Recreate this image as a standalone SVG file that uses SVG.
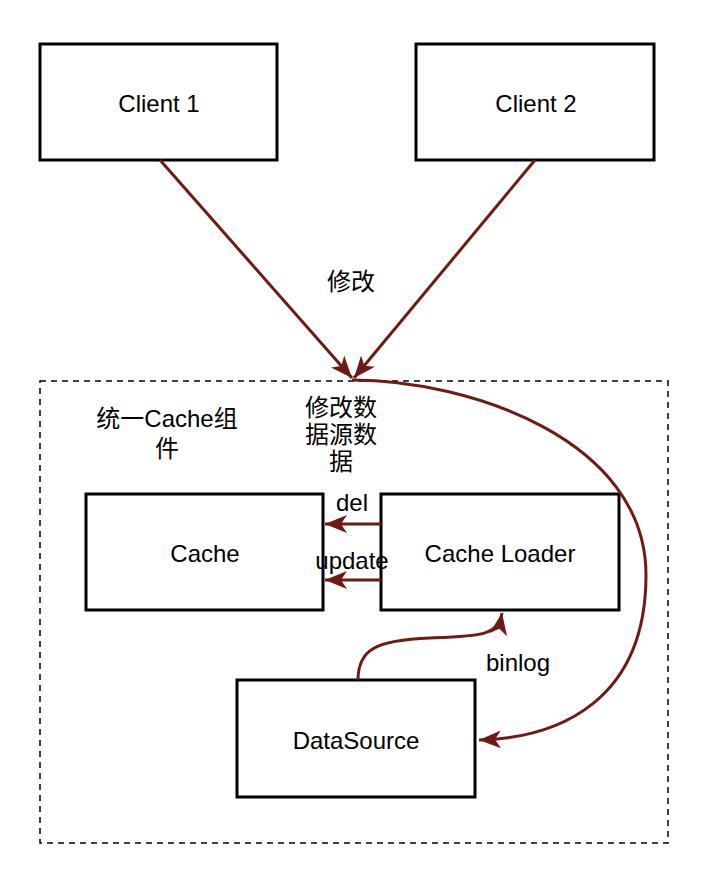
<svg xmlns="http://www.w3.org/2000/svg" width="710" height="874" viewBox="0 0 710 874">
<style>
.box{fill:#fff;stroke:#000;stroke-width:3}
.t{font-family:"Liberation Sans","Noto Sans CJK SC",Arial,sans-serif;font-size:24px;fill:#000;text-anchor:middle}
.c{fill:none;stroke:#6f1a12;stroke-width:3}
</style>
<defs>
<marker id="ah" markerUnits="userSpaceOnUse" markerWidth="24" markerHeight="18" viewBox="0 0 24 18" refX="22" refY="9" orient="auto">
<path d="M0,0 L22,9 L0,18 L6,9 z" fill="#6f1a12"/>
</marker>
</defs>
<rect x="40" y="381" width="628" height="462" fill="none" stroke="#000" stroke-width="1.5" stroke-dasharray="6 5"/>
<g id="client1"><rect class="box" x="40" y="44" width="237" height="116"/><text class="t" x="159" y="112">Client 1</text></g>
<g id="client2"><rect class="box" x="416" y="44" width="238" height="116"/><text class="t" x="536" y="112">Client 2</text></g>
<g id="cache"><rect class="box" x="86" y="494" width="237" height="116"/><text class="t" x="205" y="562">Cache</text></g>
<g id="loader"><rect class="box" x="381" y="494" width="238" height="116"/><text class="t" x="500" y="562">Cache Loader</text></g>
<g id="datasource"><rect class="box" x="237" y="680" width="238" height="117"/><text class="t" x="356" y="749">DataSource</text></g>
<g id="group-label"><text class="t" x="167" y="427">统一Cache组</text><text class="t" x="167" y="457">件</text></g>
<g id="connectors">
<line class="c" x1="160" y1="160" x2="352" y2="378" marker-end="url(#ah)"/>
<line class="c" x1="535" y1="160" x2="354" y2="378" marker-end="url(#ah)"/>
<path class="c" d="M352,380 C470,380 646,440 646,575 C646,700 560,738 479,740" marker-end="url(#ah)"/>
<path class="c" d="M358,680 C358,650 375,640 430,638 C480,636 498,636 502,613" marker-end="url(#ah)"/>
<line class="c" x1="381" y1="524" x2="325" y2="524" marker-end="url(#ah)"/>
<line class="c" x1="381" y1="580" x2="325" y2="580" marker-end="url(#ah)"/>
<text class="t" x="351" y="290">修改</text>
<text class="t" x="341" y="416">修改数</text>
<text class="t" x="341" y="443">据源数</text>
<text class="t" x="341" y="470">据</text>
<text class="t" x="352" y="511">del</text>
<text class="t" x="352" y="569">update</text>
<text class="t" x="518" y="671">binlog</text>
</g>
</svg>
